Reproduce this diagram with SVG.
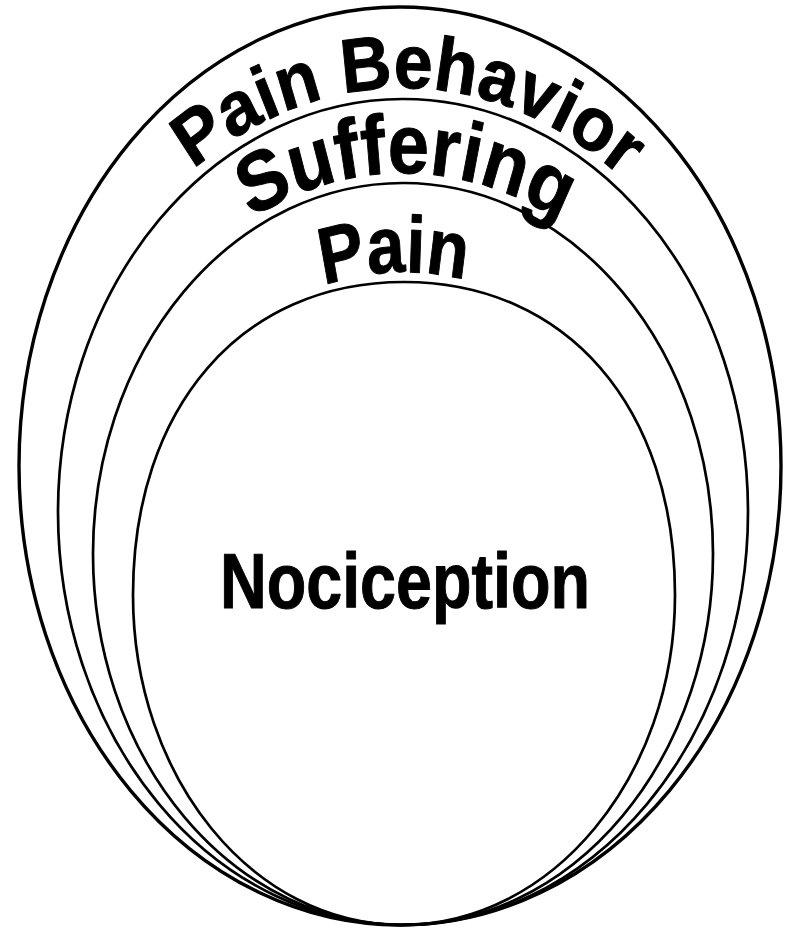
<svg xmlns="http://www.w3.org/2000/svg" xmlns:xlink="http://www.w3.org/1999/xlink" width="785" height="929" viewBox="0 0 785 929">
<style>
.ov{fill:none;stroke:#000;stroke-width:2.7}
.outer{stroke-width:3.4}
.lbl{font-family:"Liberation Sans",Arial,Helvetica,sans-serif;font-weight:bold;fill:#000;stroke:#000;stroke-width:1;stroke-linejoin:round}
</style>
<defs>
<path id="pPB" d="M17.1,512 A385.9,424 0 0 1 788.9,512"/>
<path id="pSUF" d="M39.4,554 A363.6,381 0 0 1 766.6,554"/>
<path id="pPAIN" d="M73.4,600 A330.6,328 0 0 1 734.6,600"/>
</defs>
<rect width="785" height="929" fill="#fff"/>
<g id="painBehavior">
<ellipse class="ov outer" cx="400" cy="466" rx="381" ry="459"/>
<text class="lbl" font-size="76" text-anchor="middle" transform="translate(403,0) scale(0.92,1) translate(-403,0)"><textPath xlink:href="#pPB" href="#pPB" startOffset="50.5%">Pain Behavior</textPath></text>
</g>
<g id="suffering">
<ellipse class="ov" cx="403" cy="512" rx="345" ry="413"/>
<text class="lbl" font-size="84" text-anchor="middle" transform="translate(403,0) scale(0.88,1) translate(-403,0)"><textPath xlink:href="#pSUF" href="#pSUF" startOffset="50.3%">Suffering</textPath></text>
</g>
<g id="pain">
<ellipse class="ov" cx="403" cy="554" rx="310" ry="371"/>
<text class="lbl" font-size="80" text-anchor="middle" transform="translate(404,0) scale(0.85,1) translate(-404,0)"><textPath xlink:href="#pPAIN" href="#pPAIN" startOffset="48.9%">Pain</textPath></text>
</g>
<g id="nociception">
<path class="ov" d="M404,282 C566.6,282 675,407.2 675,595 C675,777 552,925 402,925 C252,925 133,777 133,595 C133,407.2 241.4,282 404,282 Z"/>
<text class="lbl" x="405" y="608" font-size="77" text-anchor="middle" textLength="370" lengthAdjust="spacingAndGlyphs">Nociception</text>
</g>
<g id="connectors"/>
</svg>
